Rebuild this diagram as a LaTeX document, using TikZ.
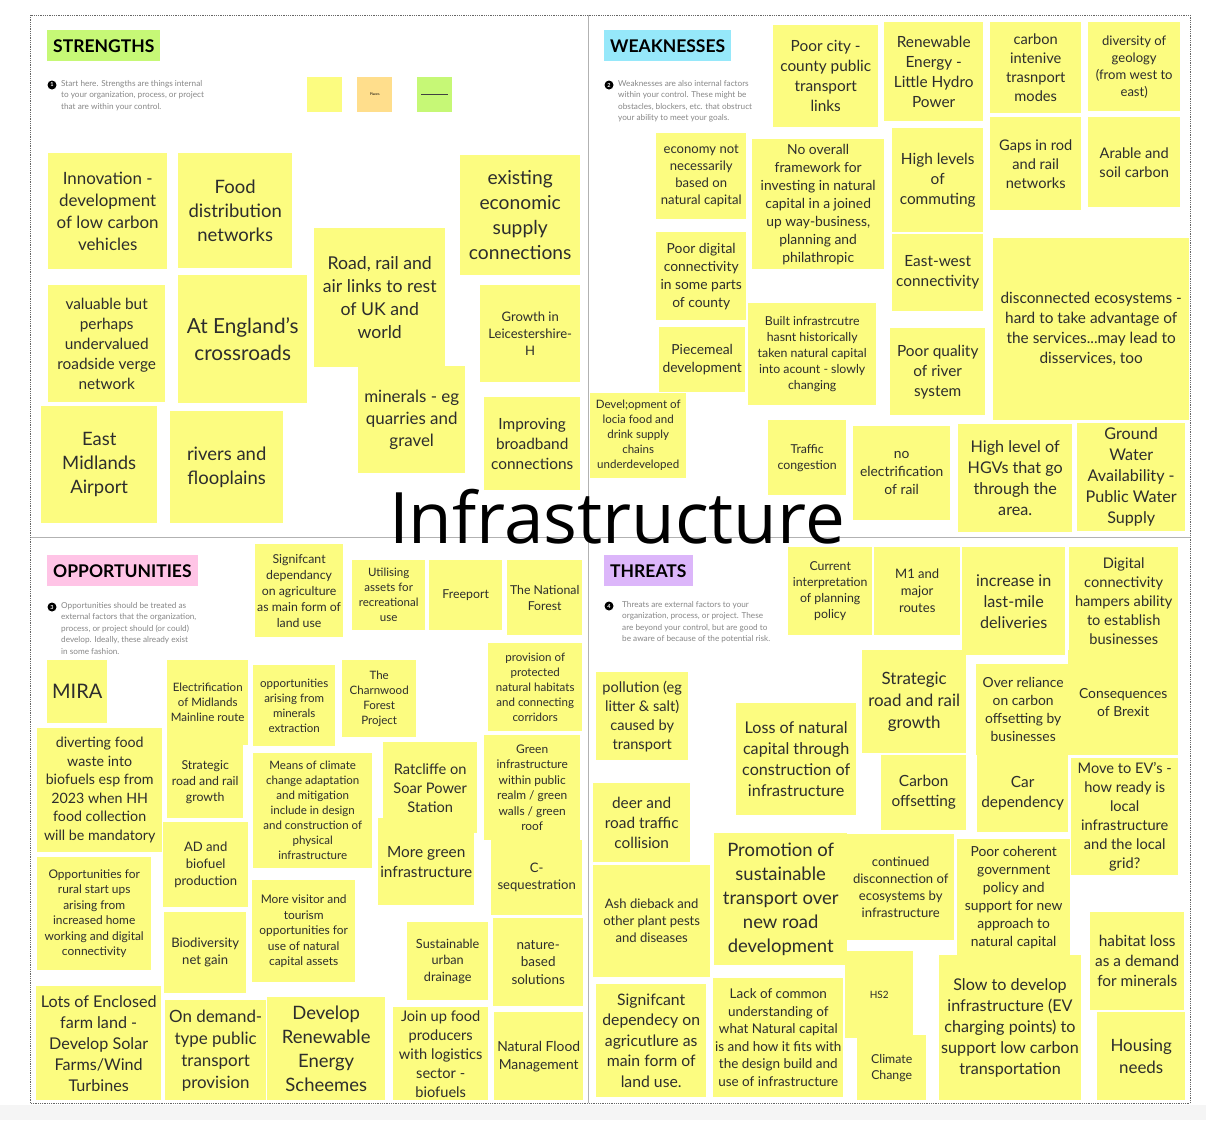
\documentclass[tikz,border=0pt]{standalone}
\usepackage{fontspec}
\setmainfont{Lato}
\newfontfamily\titlefont{Open Sans}

\definecolor{sticky}{RGB}{252,252,128}
\definecolor{notetext}{RGB}{45,45,45}
\definecolor{hintgrey}{RGB}{135,135,135}
\definecolor{sgreen}{RGB}{198,248,118}
\definecolor{wcyan}{RGB}{150,232,250}
\definecolor{opink}{RGB}{255,196,230}
\definecolor{tpurple}{RGB}{220,182,250}
\definecolor{porange}{RGB}{255,222,140}

\tikzset{
  note/.style 2 args={fill=sticky, text=notetext, anchor=north west,
    minimum width=#1pt, minimum height=#2pt, inner sep=2pt, align=center},
  fsz/.style={font=\fontsize{\fpeval{#1/1.3}}{#1}\selectfont},
  tag/.style={fill=#1, anchor=north west, inner xsep=6pt, minimum height=31pt,
    font=\bfseries\fontsize{17.5}{20}\selectfont},
  hint/.style={anchor=north west, align=left, text=hintgrey, inner sep=0pt,
    font=\fontsize{8.2}{11.5}\selectfont},
  num/.style={circle, fill=black, text=white, inner sep=0pt, minimum size=9pt,
    font=\bfseries\fontsize{5.5}{5.5}\selectfont},
}

\begin{document}
\begin{tikzpicture}[x=1pt, y=-1pt]

    % page and board
    \useasboundingbox (0,0) rectangle (1206,1120);
    \fill[white] (0,0) rectangle (1206,1120);
    \fill[black!4] (0,1105) rectangle (1206,1120);
    \draw[black!30, line width=0.8pt] (588,15) -- (588,1103);
    \draw[black!30, line width=0.8pt] (30,537) -- (1190,537);
    \draw[black!60, densely dotted, line width=0.8pt] (30,15) rectangle (1190,1103);

    % ---------------- STRENGTHS ----------------
    \node[tag=sgreen] (stag) at (47,30) {STRENGTHS};
    \node[num] (snum) at (52,85) {1};
    \node[hint] (shint) at (61,80) {Start here. Strengths are things internal\\to your organization, process, or project\\that are within your control.};
    \node[fill=sticky, anchor=north west, minimum size=35pt] (skey1) at (307,77) {};
    \node[fill=porange, anchor=north west, minimum size=35pt, font=\fontsize{3.5}{4}\selectfont] (skey2) at (357,77) {Places};
    \node[fill=sgreen, anchor=north west, minimum size=35pt] (skey3) at (417,77) {};
    \draw[black!75, line width=1.2pt] (skey3.west) ++(4,0) -- ([xshift=-4pt]skey3.east);

    \node[note={119}{116}, fsz=22] (s1) at (48,153) {Innovation -\\development\\of low carbon\\vehicles};
    \node[note={114}{115}, fsz=24] (s2) at (178,153) {Food\\distribution\\networks};
    \node[note={131}{139}, fsz=23] (s3) at (314,228) {Road, rail and\\air links to rest\\of UK and\\world};
    \node[note={120}{120}, fsz=25] (s4) at (460,155) {existing\\economic\\supply\\connections};
    \node[note={117}{117}, fsz=20] (s5) at (48,285) {valuable but\\perhaps\\undervalued\\roadside verge\\network};
    \node[note={129}{128}, fsz=27] (s6) at (178,275) {At England's\\crossroads};
    \node[note={100}{97}, fsz=17] (s7) at (480,285) {Growth in\\Leicestershire-\\H};
    \node[note={107}{107}, fsz=22] (s8) at (358,366) {minerals - eg\\quarries and\\gravel};
    \node[note={96}{93}, fsz=20] (s9) at (484,397) {Improving\\broadband\\connections};
    \node[note={116}{117}, fsz=24] (s10) at (41,406) {East\\Midlands\\Airport};
    \node[note={113}{112}, fsz=24] (s11) at (170,411) {rivers and\\flooplains};

    % ---------------- WEAKNESSES ----------------
    \node[tag=wcyan] (wtag) at (604,30) {WEAKNESSES};
    \node[num] (wnum) at (609,85) {2};
    \node[hint] (whint) at (618,80) {Weaknesses are also internal factors\\within your control. These might be\\obstacles, blockers, etc. that obstruct\\your ability to meet your goals.};

    \node[note={105}{102}, fsz=20] (w1) at (773,25) {Poor city -\\county public\\transport\\links};
    \node[note={99}{99}, fsz=20] (w2) at (884,22) {Renewable\\Energy -\\Little Hydro\\Power};
    \node[note={91}{91}, fsz=19] (w3) at (990,22) {carbon\\intenive\\trasnport\\modes};
    \node[note={92}{89}, fsz=17] (w4) at (1088,22) {diversity of\\geology\\(from west to\\east)};
    \node[note={90}{86}, fsz=17] (w5) at (656,133) {economy not\\necessarily\\based on\\natural capital};
    \node[note={132}{130}, fsz=18] (w6) at (752,139) {No overall\\framework for\\investing in natural\\capital in a joined\\up way-business,\\planning and\\philathropic};
    \node[note={91}{104}, fsz=20] (w7) at (892,128) {High levels\\of\\commuting};
    \node[note={91}{93}, fsz=19] (w8) at (990,117) {Gaps in rod\\and rail\\networks};
    \node[note={92}{90}, fsz=19] (w9) at (1088,117) {Arable and\\soil carbon};
    \node[note={90}{88}, fsz=18] (w10) at (656,232) {Poor digital\\connectivity\\in some parts\\of county};
    \node[note={91}{77}, fsz=20] (w11) at (892,234) {East-west\\connectivity};
    \node[note={196}{182}, fsz=20] (w12) at (993,238) {disconnected ecosystems -\\hard to take advantage of\\the services...may lead to\\disservices, too};
    \node[note={128}{102}, fsz=16] (w13) at (748,303) {Built infrastrcutre\\hasnt historically\\taken natural capital\\into acount - slowly\\changing};
    \node[note={86}{65}, fsz=18] (w14) at (659,327) {Piecemeal\\development};
    \node[note={95}{87}, fsz=20] (w15) at (890,328) {Poor quality\\of river\\system};
    \node[note={96}{85}, fsz=15] (w16) at (590,393) {Devel;opment of\\locia food and\\drink supply\\chains\\underdeveloped};
    \node[note={78}{75}, fsz=16] (w17) at (768,420) {Traffic\\congestion};
    \node[note={97}{94}, fsz=18] (w18) at (853,426) {no\\electrification\\of rail};
    \node[note={114}{108}, fsz=21] (w19) at (958,424) {High level of\\HGVs that go\\through the\\area.};
    \node[note={108}{108}, fsz=21] (w20) at (1077,423) {Ground\\Water\\Availability -\\Public Water\\Supply};

    % ---------------- OPPORTUNITIES ----------------
    \node[tag=opink] (otag) at (47,555) {OPPORTUNITIES};
    \node[num] (onum) at (52,607) {3};
    \node[hint] (ohint) at (61,602) {Opportunities should be treated as\\external factors that the organization,\\process, or project should (or could)\\develop. Ideally, these already exist\\in some fashion.};

    \node[note={87}{93}, fsz=16] (o1) at (255,544) {Signifcant\\dependancy\\on agriculture\\as main form of\\land use};
    \node[note={73}{70}, fsz=15] (o2) at (352,560) {Utilising\\assets for\\recreational\\use};
    \node[note={73}{70}, fsz=16] (o3) at (429,560) {Freeport};
    \node[note={75}{75}, fsz=16] (o4) at (507,560) {The National\\Forest};
    \node[note={94}{88}, fsz=15] (o5) at (488,643) {provision of\\protected\\natural habitats\\and connecting\\corridors};
    \node[note={60}{63}, fsz=26] (o6) at (47,660) {MIRA};
    \node[note={81}{85}, fsz=15] (o7) at (167,660) {Electrification\\of Midlands\\Mainline route};
    \node[note={82}{81}, fsz=15] (o8) at (253,665) {opportunities\\arising from\\minerals\\extraction};
    \node[note={74}{77}, fsz=15] (o9) at (342,660) {The\\Charnwood\\Forest\\Project};
    \node[note={125}{124}, fsz=18.5] (o10) at (37,728) {diverting food\\waste into\\biofuels esp from\\2023 when HH\\food collection\\will be mandatory};
    \node[note={76}{73}, fsz=16] (o11) at (167,745) {Strategic\\road and rail\\growth};
    \node[note={119}{115}, fsz=15] (o12) at (253,753) {Means of climate\\change adaptation\\and mitigation\\include in design\\and construction of\\physical\\infrastructure};
    \node[note={94}{91}, fsz=19] (o13) at (383,742) {Ratcliffe on\\Soar Power\\Station};
    \node[note={96}{105}, fsz=15.5] (o14) at (484,735) {Green\\infrastructure\\within public\\realm / green\\walls / green\\roof};
    \node[note={85}{85}, fsz=17] (o15) at (163,822) {AD and\\biofuel\\production};
    \node[note={96}{87}, fsz=20] (o16) at (378,818) {More green\\infrastructure};
    \node[note={91}{75}, fsz=17] (o17) at (491,840) {C-\\sequestration};
    \node[note={114}{113}, fsz=15.5] (o18) at (37,857) {Opportunities for\\rural start ups\\arising from\\increased home\\working and digital\\connectivity};
    \node[note={82}{81}, fsz=17] (o19) at (164,912) {Biodiversity\\net gain};
    \node[note={103}{102}, fsz=15.5] (o20) at (252,880) {More visitor and\\tourism\\opportunities for\\use of natural\\capital assets};
    \node[note={81}{78}, fsz=16.5] (o21) at (407,922) {Sustainable\\urban\\drainage};
    \node[note={90}{88}, fsz=17.5] (o22) at (493,918) {nature-\\based\\solutions};
    \node[note={125}{114}, fsz=21] (o23) at (36,986) {Lots of Enclosed\\farm land -\\Develop Solar\\Farms/Wind\\Turbines};
    \node[note={101}{100}, fsz=22] (o24) at (165,1000) {On demand-\\type public\\transport\\provision};
    \node[note={118}{103}, fsz=24] (o25) at (267,997) {Develop\\Renewable\\Energy\\Scheemes};
    \node[note={95}{93}, fsz=19] (o26) at (393,1007) {Join up food\\producers\\with logistics\\sector -\\biofuels};
    \node[note={89}{88}, fsz=18] (o27) at (494,1012) {Natural Flood\\Management};

    % ---------------- THREATS ----------------
    \node[tag=tpurple] (ttag) at (604,555) {THREATS};
    \node[num] (tnum) at (609,606) {4};
    \node[hint] (thint) at (622,601) {Threats are external factors to your\\organization, process, or project. These\\are beyond your control, but are good to\\be aware of because of the potential risk.};

    \node[note={84}{88}, fsz=16] (t1) at (788,547) {Current\\interpretation\\of planning\\policy};
    \node[note={86}{88}, fsz=17] (t2) at (874,547) {M1 and\\major\\routes};
    \node[note={103}{108}, fsz=21] (t3) at (962,547) {increase in\\last-mile\\deliveries};
    \node[note={109}{108}, fsz=19] (t4) at (1069,547) {Digital\\connectivity\\hampers ability\\to establish\\businesses};
    \node[note={92}{88}, fsz=19] (t5) at (596,672) {pollution (eg\\litter \& salt)\\caused by\\transport};
    \node[note={120}{112}, fsz=21] (t6) at (736,703) {Loss of natural\\capital through\\construction of\\infrastructure};
    \node[note={104}{103}, fsz=22] (t7) at (862,650) {Strategic\\road and rail\\growth};
    \node[note={94}{91}, fsz=18] (t8) at (976,664) {Over reliance\\on carbon\\offsetting by\\businesses};
    \node[note={110}{105}, fsz=18] (t9) at (1068,650) {Consequences\\of Brexit};
    \node[note={85}{75}, fsz=20] (t10) at (881,755) {Carbon\\offsetting};
    \node[note={91}{77}, fsz=20] (t11) at (977,755) {Car\\dependency};
    \node[note={107}{117}, fsz=19] (t12) at (1071,758) {Move to EV's -\\how ready is\\local\\infrastructure\\and the local\\grid?};
    \node[note={97}{79}, fsz=20] (t13) at (593,783) {deer and\\road traffic\\collision};
    \node[note={133}{132}, fsz=24] (t14) at (714,833) {Promotion of\\sustainable\\transport over\\new road\\development};
    \node[note={107}{106}, fsz=17] (t15) at (847,834) {continued\\disconnection of\\ecosystems by\\infrastructure};
    \node[note={113}{116}, fsz=18] (t16) at (957,839) {Poor coherent\\government\\policy and\\support for new\\approach to\\natural capital};
    \node[note={117}{112}, fsz=17] (t17) at (593,865) {Ash dieback and\\other plant pests\\and diseases};
    \node[note={94}{98}, fsz=20] (t18) at (1090,912) {habitat loss\\as a demand\\for minerals};
    \node[note={110}{113}, fsz=20.5] (t19) at (596,984) {Signifcant\\dependecy on\\agricutlure as\\main form of\\land use.};
    \node[note={130}{119}, fsz=17.5] (t20) at (713,978) {Lack of common\\understanding of\\what Natural capital\\is and how it fits with\\the design build and\\use of infrastructure};
    \node[note={68}{87}, fsz=13] (t21) at (845,951) {HS2};
    \node[note={69}{65}, fsz=16] (t22) at (857,1035) {Climate\\Change};
    \node[note={141}{145}, fsz=21] (t23) at (939,955) {Slow to develop\\infrastructure (EV\\charging points) to\\support low carbon\\transportation};
    \node[note={88}{88}, fsz=22] (t24) at (1097,1012) {Housing\\needs};

    % board title
    \node[font=\titlefont\fontsize{71}{80}\selectfont, inner sep=0pt] (title) at (617,517) {Infrastructure};

\end{tikzpicture}
\end{document}
